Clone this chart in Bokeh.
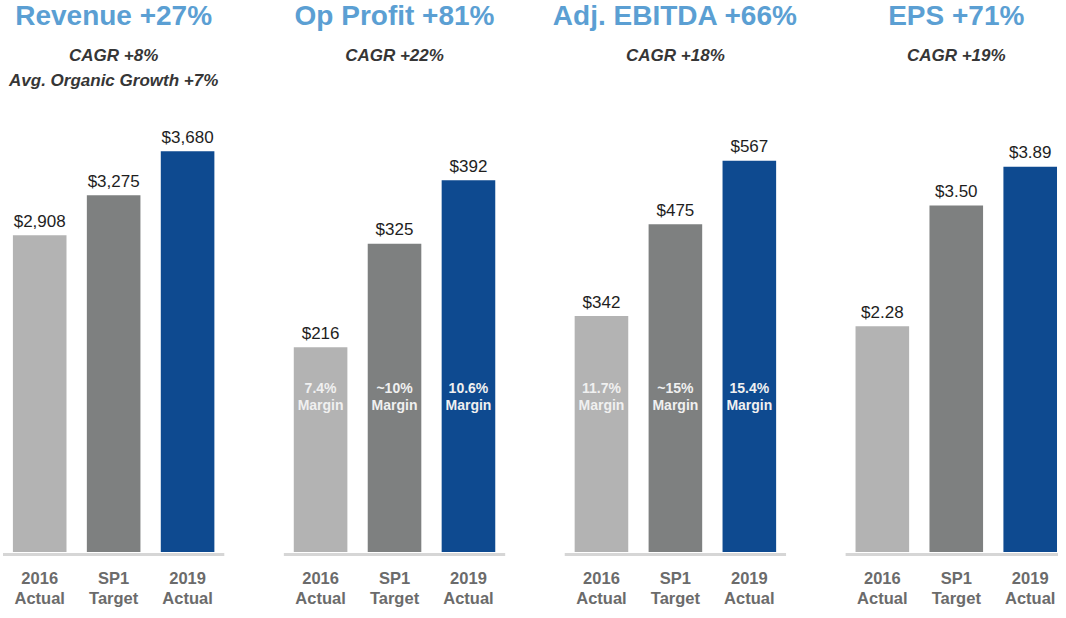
from bokeh.plotting import figure
from bokeh.models import Range1d, ColumnDataSource
from bokeh.core.properties import value
from bokeh.embed import file_html
from bokeh.resources import INLINE

# ---- data ----
titles = ["Revenue +27%", "Op Profit +81%", "Adj. EBITDA +66%", "EPS +71%"]
subtitles = [["CAGR +8%", "Avg. Organic Growth +7%"], ["CAGR +22%"], ["CAGR +18%"], ["CAGR +19%"]]
categories = ["2016\nActual", "SP1\nTarget", "2019\nActual"]
revenue = [2908, 3275, 3680]
op_profit = [216, 325, 392]
adj_ebitda = [342, 475, 567]
eps = [2.28, 3.50, 3.89]
op_margins = ["7.4%", "~10%", "10.6%"]
ebitda_margins = ["11.7%", "~15%", "15.4%"]

series = [revenue, op_profit, adj_ebitda, eps]
label_fmt = ["${:,.0f}", "${:,.0f}", "${:,.0f}", "${:.2f}"]
margins = [None, op_margins, ebitda_margins, None]

# ---- layout / style ----
bar_colors = ["#b3b3b3", "#7e8080", "#0e4a90"]
px_per_unit = [0.110, 0.958, 0.697, 100.0]  # vertical scale of each panel (reference px)
BASE_Y = 560
TOP_Y, BOT_Y = 3, 619
PANEL_STEP, FIRST_X, BAR_STEP, BAR_W = 283.0, 39.5, 74.5, 54
TITLE_BLUE = "#5b9fd3"
SANS = "Liberation Sans"

p = figure(width=1058, height=610, x_range=Range1d(0, 1066), y_range=Range1d(BOT_Y, TOP_Y),
           output_backend="svg", toolbar_location=None, min_border=0, title=None,
           x_axis_location=None, y_axis_location=None)
p.grid.visible = False
p.outline_line_color = None
p.background_fill_color = "white"
p.border_fill_color = "white"

for i, vals in enumerate(series):
    k = px_per_unit[i]
    rname = f"panel{i}"
    p.extra_y_ranges[rname] = Range1d(start=(BASE_Y - BOT_Y) / k, end=(BASE_Y - TOP_Y) / k)
    xs = [FIRST_X + PANEL_STEP * i + BAR_STEP * j for j in range(len(vals))]
    xc = xs[1]
    src = ColumnDataSource(dict(x=xs, top=vals, color=bar_colors,
                                label=[label_fmt[i].format(v) for v in vals]))
    # baseline
    p.segment(x0=[xs[0] - BAR_W / 2 - 10], x1=[xs[-1] + BAR_W / 2 + 10], y0=[BASE_Y + 2.5], y1=[BASE_Y + 2.5],
              line_color="#d6d6d6", line_width=3)
    p.vbar(x="x", top="top", bottom=0, width=BAR_W, fill_color="color", line_color=None,
           source=src, y_range_name=rname)
    p.text(x="x", y="top", text="label", source=src, y_range_name=rname,
           text_align="center", text_baseline="middle", y_offset=-14,
           text_font=value(SANS), text_font_size="17px", text_color="#1e1e1e")
    # title and subtitles
    p.text(x=[xc], y=[18], text=[titles[i]], text_align="center", text_baseline="middle",
           text_font=value(SANS), text_font_style="bold", text_font_size="28px", text_color=TITLE_BLUE)
    for n, s in enumerate(subtitles[i]):
        p.text(x=[xc], y=[58.5 + 25.5 * n], text=[s], text_align="center", text_baseline="middle",
               text_font=value(SANS), text_font_style="bold italic", text_font_size="17px",
               text_color="#363636")
    # category labels
    top_lines = [c.split("\n")[0] for c in categories]
    bot_lines = [c.split("\n")[1] for c in categories]
    for yc, lines in ((586, top_lines), (606, bot_lines)):
        p.text(x=xs, y=[yc] * len(xs), text=lines, text_align="center", text_baseline="middle",
               text_font=value(SANS), text_font_style="bold", text_font_size="16.5px",
               text_color="#6b6b6b")
    # margin labels
    if margins[i] is not None:
        p.text(x=xs, y=[394] * len(xs), text=margins[i], text_align="center", text_baseline="middle",
               text_font=value(SANS), text_font_style="bold", text_font_size="14px",
               text_color="#f0f0f0")
        p.text(x=xs, y=[411] * len(xs), text=["Margin"] * len(xs), text_align="center",
               text_baseline="middle", text_font=value(SANS), text_font_style="bold",
               text_font_size="14px", text_color="#f0f0f0")

open("out.html", "w").write(file_html(p, INLINE))
